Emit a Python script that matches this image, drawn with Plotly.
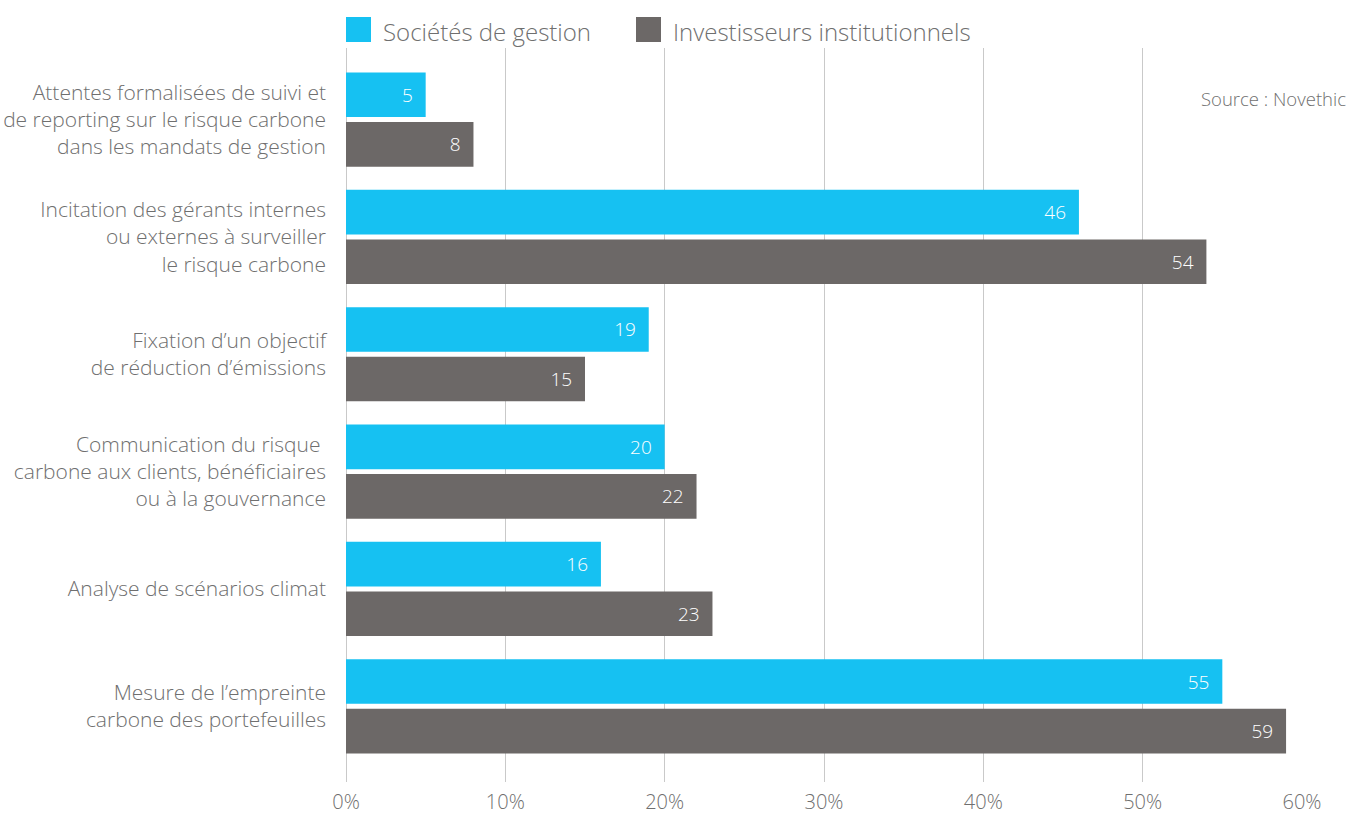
import plotly.graph_objects as go

categories = [
    "Attentes formalisées de suivi et<br>de reporting sur le risque carbone<br>dans les mandats de gestion",
    "Incitation des gérants internes<br>ou externes à surveiller<br>le risque carbone",
    "Fixation d’un objectif<br>de réduction d’émissions",
    "Communication du risque <br>carbone aux clients, bénéficiaires<br>ou à la gouvernance",
    "Analyse de scénarios climat",
    "Mesure de l’empreinte<br>carbone des portefeuilles",
]
series_names = ["Sociétés de gestion", "Investisseurs institutionnels"]
societes = [5, 46, 19, 20, 16, 55]
investisseurs = [8, 54, 15, 22, 23, 59]
x_tickvals = [0, 10, 20, 30, 40, 50, 60]
x_ticktext = ["0%", "10%", "20%", "30%", "40%", "50%", "60%"]
source_text = "Source : Novethic"

colors = ["#16C1F2", "#6C6867"]
font_family = "'Open Sans', Roboto, Arial, sans-serif"
text_grey = "#6f6f6f"

fig = go.Figure()
for name, vals, col in zip(series_names, [societes, investisseurs], colors):
    fig.add_trace(go.Bar(
        y=categories, x=vals, name=name, orientation="h",
        marker=dict(color=col, line=dict(width=0)),
        text=[str(v) for v in vals],
        texttemplate="%{text}\u00a0\u00a0",
        textposition="inside", insidetextanchor="end",
        textfont=dict(color="white", size=19, family=font_family, weight=300),
        showlegend=False, cliponaxis=False,
    ))

fig.update_layout(
    width=1349, height=814,
    margin=dict(l=346, r=47, t=48, b=32),
    paper_bgcolor="white", plot_bgcolor="white",
    barmode="group", bargap=0.155, bargroupgap=0.1,
    font=dict(family=font_family, color=text_grey),
    xaxis=dict(
        range=[0, 60], tickvals=x_tickvals, ticktext=x_ticktext,
        showgrid=True, gridcolor="#c9c9c9", gridwidth=1.3,
        zeroline=True, zerolinecolor="#c9c9c9", zerolinewidth=1.3,
        tickfont=dict(size=20, color=text_grey, family=font_family, weight=300),
        ticklabelstandoff=6, fixedrange=True, automargin=False,
    ),
    yaxis=dict(
        categoryorder="array", categoryarray=categories,
        range=[5.5 + 0.145, -0.5 - 0.11],
        showgrid=False, zeroline=False,
        tickfont=dict(size=21, color=text_grey, family=font_family, weight=300),
        ticklabelstandoff=19, automargin=False,
    ),
)

# Legend drawn at top
legend_x = [346, 636]
shapes = []
annotations = []
for i, (name, col) in enumerate(zip(series_names, colors)):
    x0 = legend_x[i]
    shapes.append(dict(type="rect", xref="paper", yref="paper",
                       x0=(x0 - 346) / 956, x1=(x0 + 25 - 346) / 956,
                       y0=(814 - 32 - 42) / 734, y1=(814 - 32 - 17) / 734,
                       fillcolor=col, line=dict(width=0)))
    annotations.append(dict(xref="paper", yref="paper",
                            x=(x0 + 35 - 346) / 956, y=(814 - 32 - 31) / 734,
                            xanchor="left", yanchor="middle", showarrow=False,
                            text=name,
                            font=dict(size=24, color=text_grey, family=font_family, weight=300)))
annotations.append(dict(xref="paper", yref="paper",
                        x=(1348 - 346) / 956, y=(814 - 32 - 98) / 734,
                        xanchor="right", yanchor="middle", showarrow=False,
                        text=source_text,
                        font=dict(size=18.5, color=text_grey, family=font_family, weight=300)))
fig.update_layout(shapes=shapes, annotations=annotations)

fig.write_html("out.html")
